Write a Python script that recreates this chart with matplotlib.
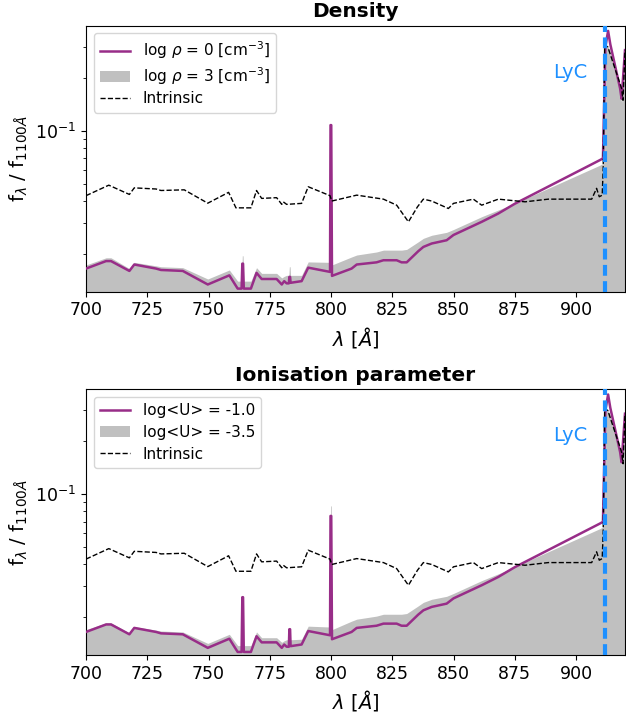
import matplotlib
matplotlib.use('Agg')
import matplotlib.pyplot as plt
import numpy as np

# ---------- data ----------

# intrinsic spectrum (same in both panels)
lam_int = [700, 709.3, 717.7, 719.7, 728.6, 730.6, 740.1, 749.7, 758.2, 761.2,
           767.3, 769.6, 771.7, 777.8, 779.9, 780.5, 781.9, 788, 790.7, 799.6,
           800.3, 810.5, 821.4, 826.8, 831.6, 835.3, 837.7, 841.1, 847.9, 850,
           858.1, 861.5, 868.3, 879.2, 888.7, 906.4, 908.4, 909.5, 910.7, 911.1,
           911.7, 913.0, 918.6, 919.2, 920]
f_int = [0.0428, 0.0491, 0.0435, 0.0474, 0.0467, 0.0458, 0.0462, 0.0388, 0.0447, 0.0365,
         0.0365, 0.0458, 0.0413, 0.0417, 0.0382, 0.0395, 0.0382, 0.0387, 0.0481, 0.0428,
         0.0399, 0.0431, 0.0409, 0.0378, 0.0304, 0.0370, 0.0409, 0.0399, 0.0362, 0.0387,
         0.0409, 0.0378, 0.0409, 0.0395, 0.0409, 0.0409, 0.0471, 0.0422, 0.0431, 0.0611,
         0.307, 0.299, 0.174, 0.149, 0.287]

# wavelength grid of the model spectra
lam_mod = [700, 708.2, 710.2, 717.7, 719.7, 728.6, 730.6, 739.5, 749.7, 758.5,
           761.9, 763.5, 763.8, 764.1, 764.4, 767.3, 769.6, 771.7, 777.8, 779.9,
           780.9, 781.9, 782.8, 783.0, 783.3, 783.5, 788, 790.7, 799.6, 799.8,
           800.1, 800.4, 808.4, 810.5, 818.6, 821.4, 826.8, 828.8, 830.9, 835.6,
           837.7, 841.1, 847.2, 850, 861.5, 868.3, 875, 909.8, 911.0, 912.0,
           913.1, 914.0, 918.0, 918.6, 920]

# density panel
f_rho0 = [0.0165, 0.0182, 0.0182, 0.0160, 0.0174, 0.0165, 0.0162, 0.0160, 0.0134, 0.0151,
          0.0127, 0.0127, 0.0176, 0.0176, 0.0127, 0.0127, 0.0156, 0.0144, 0.0144, 0.0134,
          0.0140, 0.0136, 0.0136, 0.0148, 0.0148, 0.0137, 0.0140, 0.0167, 0.0158, 0.1077,
          0.1077, 0.0150, 0.0165, 0.0174, 0.0179, 0.0184, 0.0184, 0.0179, 0.0179, 0.0207,
          0.0219, 0.0229, 0.0239, 0.0256, 0.0304, 0.0339, 0.0385, 0.0682, 0.0697, 0.300,
          0.369, 0.310, 0.174, 0.152, 0.287]
f_rho3 = [0.0173, 0.0190, 0.0190, 0.0165, 0.0179, 0.0171, 0.0169, 0.0167, 0.0144, 0.0162,
          0.0140, 0.0140, 0.0195, 0.0195, 0.0140, 0.0140, 0.0167, 0.0155, 0.0155, 0.0146,
          0.0149, 0.0151, 0.0151, 0.0169, 0.0169, 0.0151, 0.0151, 0.0180, 0.0179, 0.0900,
          0.0900, 0.0173, 0.0192, 0.0197, 0.0205, 0.0210, 0.0210, 0.0210, 0.0212, 0.0234,
          0.0245, 0.0255, 0.0265, 0.0275, 0.0325, 0.0355, 0.0387, 0.0638, 0.0653, 0.307,
          0.300, 0.280, 0.168, 0.145, 0.280]

# ionisation parameter panel
f_U1 = [0.0165, 0.0182, 0.0182, 0.0160, 0.0174, 0.0165, 0.0162, 0.0160, 0.0134, 0.0151,
        0.0127, 0.0127, 0.0260, 0.0260, 0.0127, 0.0127, 0.0156, 0.0144, 0.0144, 0.0134,
        0.0140, 0.0136, 0.0136, 0.0171, 0.0171, 0.0137, 0.0140, 0.0167, 0.0158, 0.0753,
        0.0753, 0.0150, 0.0165, 0.0174, 0.0179, 0.0184, 0.0184, 0.0179, 0.0179, 0.0207,
        0.0219, 0.0229, 0.0239, 0.0256, 0.0304, 0.0339, 0.0385, 0.0682, 0.0697, 0.300,
        0.369, 0.310, 0.174, 0.152, 0.287]
f_U35 = [0.0170, 0.0186, 0.0186, 0.0163, 0.0177, 0.0169, 0.0167, 0.0165, 0.0142, 0.0160,
         0.0138, 0.0138, 0.0138, 0.0138, 0.0138, 0.0138, 0.0165, 0.0153, 0.0153, 0.0144,
         0.0147, 0.0149, 0.0149, 0.0149, 0.0149, 0.0149, 0.0150, 0.0178, 0.0176, 0.0858,
         0.0858, 0.0170, 0.0190, 0.0195, 0.0203, 0.0208, 0.0208, 0.0208, 0.0210, 0.0232,
         0.0243, 0.0253, 0.0263, 0.0273, 0.0323, 0.0353, 0.0387, 0.0638, 0.0653, 0.307,
         0.300, 0.280, 0.168, 0.145, 0.280]

lyc = 912
xticks = [700, 725, 750, 775, 800, 825, 850, 875, 900]

purple = '#982d88'
lyc_color = '#1e90ff'

panels = [
    ('Density', f_rho0, f_rho3,
     r'log $\rho$ = 0 [cm$^{-3}$]', r'log $\rho$ = 3 [cm$^{-3}$]', 0.28),
    ('Ionisation parameter', f_U1, f_U35,
     'log<U> = -1.0', 'log<U> = -3.5', 0.45),
]

fig = plt.figure(figsize=(6.26, 7.14), dpi=100)
ax1 = fig.add_axes([0.1374, 0.5915, 0.8610, 0.3725])
ax2 = fig.add_axes([0.1374, 0.0826, 0.8610, 0.3722])

for ax, (title, f_line, f_fill, lab_line, lab_fill, spacing) in zip([ax1, ax2], panels):
    ax.fill_between(lam_mod, 1e-3, f_fill, color='silver', lw=0, label=lab_fill, zorder=1)
    ax.plot(lam_mod, f_line, color=purple, lw=1.8, label=lab_line, zorder=3)
    ax.plot(lam_int, f_int, color='black', ls='--', lw=1, label='Intrinsic', zorder=4)
    ax.axvline(lyc, color=lyc_color, ls=(0, (2.6, 1.3)), lw=3, zorder=5)
    ax.text(890.7, 0.215, 'LyC', color=lyc_color, fontsize=14, ha='left', va='center')

    ax.set_yscale('log')
    ax.set_xlim(700, 920)
    ax.set_ylim(0.0122, 0.395)
    ax.set_xticks(xticks)
    ax.tick_params(axis='both', labelsize=12.5)
    ax.set_title(title, fontsize=14.5, fontweight='bold')
    ax.set_xlabel(r'$\lambda$ [$\AA$]', fontsize=14)
    ax.set_ylabel(r'f$_\lambda$ / f$_{1100\AA}$', fontsize=14)

    handles, labels = ax.get_legend_handles_labels()
    order = [labels.index(lab_line), labels.index(lab_fill), labels.index('Intrinsic')]
    ax.legend([handles[i] for i in order], [labels[i] for i in order],
              loc='upper left', fontsize=11, labelspacing=spacing)

fig.savefig('out.png', dpi=100)
